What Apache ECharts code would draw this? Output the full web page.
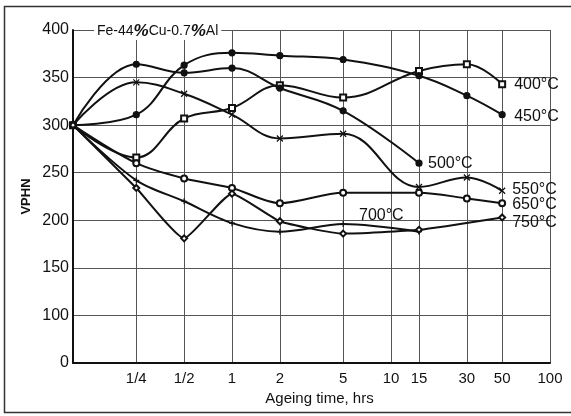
<!DOCTYPE html>
<html>
<head>
<meta charset="utf-8">
<script src="https://cdn.jsdelivr.net/npm/echarts@6/dist/echarts.min.js"></script>
<style>
html, body { margin: 0; padding: 0; background: #fff; }
#chart { width: 571px; height: 416px; }
</style>
</head>
<body>
<div id="chart"></div>
<script>
// ageing time (hrs), log axis; 0.1 stands for the as-quenched start
const times = [0.1, 0.25, 0.5, 1, 2, 5, 15, 30, 50];
const timeTicks = [0.25, 0.5, 1, 2, 5, 10, 15, 30, 50, 100];
const timeTickLabels = ['1/4', '1/2', '1', '2', '5', '10', '15', '30', '50', '100'];

// VPHN per temperature (null = no point)
const vphn400 = [300, 266, 307, 318, 342, 329, 357, 364, 343];
const vphn450 = [300, 311, 363, 376, 373, 369, 352, 331, 311];
const vphn500 = [300, 364, 355, 360, 339, 315, 260];
const vphn550 = [300, 345, 333, 311, 286, 291, 235, 245, 231];
const vphn650 = [300, 260, 244, 234, 218, 229, 229, 223, 218];
const vphn700 = [300, 242, 220, 197, 188, 196, 188];
const vphn750 = [300, 234, 181, 228, 199, 186, 190, null, 203];

// y axis is broken below 100: the bottom line is labelled 0
const yBreakLabels = { 50: '0' };

const FONT = '"Liberation Sans Narrow", "Liberation Sans", sans-serif';
const crossPath = 'path://M0,0L10,10M10,0L0,10';
const plusPath = 'path://M5,0L5,10M0,5L10,5';

function pairs(vals) {
  return vals.map((v, i) => [times[i], v]).filter(p => p[1] !== null);
}

function curve(name, vals, symbol, offset, smooth) {
  return {
    name: name,
    type: 'line',
    data: pairs(vals),
    smooth: smooth,
    symbol: symbol,
    symbolSize: 6,
    lineStyle: { color: '#111', width: 2 },
    itemStyle: { color: '#111', borderColor: '#111', borderWidth: 1.2 },
    endLabel: {
      show: true,
      formatter: name,
      color: '#111',
      fontFamily: FONT,
      fontSize: 16,
      offset: offset
    }
  };
}

const chart = echarts.init(document.getElementById('chart'));
chart.setOption({
  animation: false,
  backgroundColor: '#fff',
  title: {
    text: '{a|Fe-44}{p|%}{a|Cu-0.7}{p|%}{a|Al}',
    left: 94,
    top: 23,
    padding: [0, 3],
    backgroundColor: '#fff',
    textStyle: {
      rich: {
        a: { fontFamily: FONT, fontSize: 14, fontWeight: 'normal', color: '#111' },
        p: { fontFamily: FONT, fontSize: 17, fontWeight: 'bold', fontStyle: 'italic', color: '#111' }
      }
    }
  },
  grid: { left: 73, right: 21, top: 30, bottom: 53 },
  xAxis: {
    type: 'log',
    logBase: 10,
    min: 0.1,
    max: 100,
    name: 'Ageing time, hrs',
    nameLocation: 'middle',
    nameGap: 28,
    nameTextStyle: { fontFamily: FONT, fontSize: 15, color: '#111', padding: [0, 0, 0, 16] },
    axisLine: { lineStyle: { color: '#111', width: 2 } },
    axisTick: { show: false, customValues: timeTicks },
    axisLabel: {
      customValues: timeTicks,
      formatter: v => timeTickLabels[timeTicks.indexOf(v)] || '',
      fontFamily: FONT,
      fontSize: 15,
      color: '#111',
      margin: 8
    },
    splitLine: { show: true, lineStyle: { color: '#555', width: 1 } }
  },
  yAxis: {
    type: 'value',
    min: 50,
    max: 400,
    interval: 50,
    name: 'VPHN',
    nameLocation: 'middle',
    nameRotate: 90,
    nameGap: 40,
    nameMoveOverlap: false,
    nameTextStyle: { fontFamily: FONT, fontSize: 13, fontWeight: 'bold', color: '#111' },
    axisLine: { show: true, lineStyle: { color: '#111', width: 2 } },
    axisTick: { show: false },
    axisLabel: {
      formatter: v => yBreakLabels[v] || String(v),
      fontFamily: FONT,
      fontSize: 16,
      color: '#111',
      margin: 4
    },
    splitLine: { show: true, lineStyle: { color: '#555', width: 1 } }
  },
  graphic: [{
    type: 'rect',
    shape: { x: 4.5, y: 6.5, width: 620, height: 406 },
    style: { fill: 'none', stroke: '#333', lineWidth: 1.5 },
    silent: true
  }],
  series: [
    curve('400°C', vphn400, 'emptyRect', [4, 0], 0.4),
    curve('450°C', vphn450, 'circle', [4, 2], 0.4),
    curve('500°C', vphn500, 'circle', [1, 0], 0.4),
    curve('550°C', vphn550, crossPath, [2, -1], 0.4),
    curve('650°C', vphn650, 'emptyCircle', [2, 1], 0.3),
    curve('700°C', vphn700, plusPath, [-68, -16], 0.3),
    curve('750°C', vphn750, 'emptyDiamond', [2, 5], 0.15)
  ]
});
</script>
</body>
</html>
